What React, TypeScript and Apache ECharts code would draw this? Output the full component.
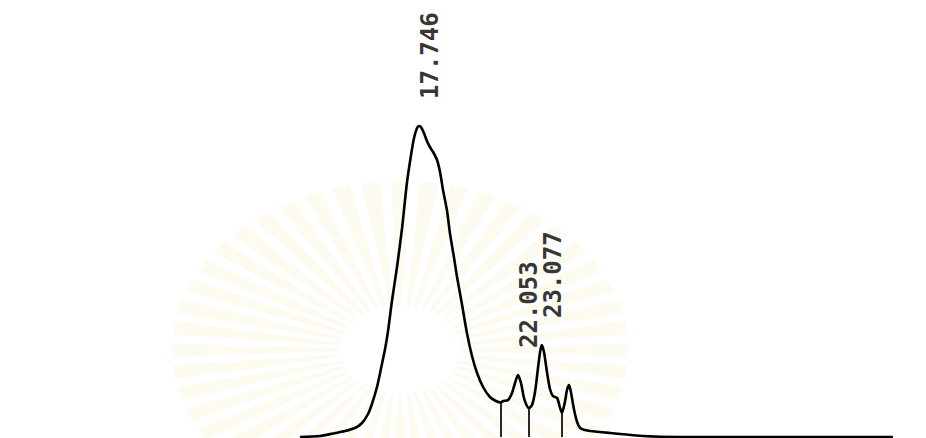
import React, { useEffect, useRef } from "react";
import * as echarts from "echarts";

// Retention time (min) of each sampled point of the trace
const times = [
  12.57, 13.44, 14.01, 14.53, 14.96, 15.27, 15.53, 15.7, 15.92, 16.09, 16.27,
  16.4, 16.57, 16.79, 17.01, 17.22, 17.4, 17.53, 17.66, 17.75, 17.83, 17.96,
  18.09, 18.22, 18.36, 18.53, 18.66, 18.79, 18.96, 19.09, 19.27, 19.4, 19.62,
  19.83, 20.05, 20.27, 20.53, 20.83, 21.09, 21.31, 21.4, 21.62, 21.79, 21.92,
  22.05, 22.18, 22.31, 22.44, 22.53, 22.66, 22.79, 22.92, 23.01, 23.08, 23.18,
  23.31, 23.44, 23.57, 23.75, 23.88, 23.96, 24.09, 24.18, 24.27, 24.35, 24.49,
  24.62, 24.75, 24.96, 25.18, 26.05, 27.49, 29.09, 38.35,
];

// Detector signal (arbitrary units) at each time
const signal = [
  0, 1, 3.5, 6, 9, 14, 23, 33, 50, 68, 88, 106, 136, 170, 209, 254, 282, 299,
  309, 311, 310, 304, 296, 290, 285, 277, 265, 247, 227, 204, 179, 160, 132,
  104, 81, 64, 50, 40, 36, 34.5, 36, 37, 44, 54, 62, 54, 39, 31, 29, 32, 45, 69,
  85, 92, 85, 65, 48, 41, 39, 29, 24, 35, 47, 52, 45, 27, 15, 9, 7, 6, 4, 1, 0,
  0,
];

// Peaks annotated with their retention time
const peakTimes = [17.746, 22.053, 23.077];
const peakLabels = ["17.746", "22.053", "23.077"];

// Integration drop lines (min)
const dropTimes = [21.31, 22.53, 23.96];

function signalAt(t: number): number {
  for (let i = 0; i < times.length - 1; i++) {
    if (t >= times[i] && t <= times[i + 1]) {
      const f = (t - times[i]) / (times[i + 1] - times[i]);
      return signal[i] + f * (signal[i + 1] - signal[i]);
    }
  }
  return 0;
}

function peakHeight(t: number): number {
  let best = 0;
  let bd = Infinity;
  times.forEach((x, i) => {
    const d = Math.abs(x - t);
    if (d < bd) {
      bd = d;
      best = signal[i];
    }
  });
  return best;
}

function watermark() {
  const rays: any[] = [];
  const n = 48;
  const r0 = 60;
  const R = 228;
  const ky = 0.74;
  for (let i = 0; i < n; i++) {
    const a = (i / n) * Math.PI * 2;
    const w0 = 0.03;
    const w1 = 0.04;
    const pts = [
      [r0 * Math.cos(a - w0), r0 * Math.sin(a - w0) * ky],
      [R * Math.cos(a - w1), R * Math.sin(a - w1) * ky],
      [R * Math.cos(a + w1), R * Math.sin(a + w1) * ky],
      [r0 * Math.cos(a + w0), r0 * Math.sin(a + w0) * ky],
    ];
    rays.push({
      type: "polygon",
      shape: { points: pts },
      style: { fill: "rgba(246,230,185,0.22)" },
      silent: true,
    });
  }
  return {
    type: "group",
    x: 400,
    y: 350,
    z: -10,
    silent: true,
    children: rays,
  };
}

export default function App() {
  const ref = useRef<HTMLDivElement>(null);
  useEffect(() => {
    if (!ref.current) return;
    const chart = echarts.init(ref.current, null, { renderer: "svg" });
    const trace = times.map((t, i) => [t, signal[i]]);
    const labelPts = peakTimes.map((t, i) => ({
      value: [t, peakHeight(t)],
      name: peakLabels[i],
    }));
    const drops = dropTimes.map((t) => [
      { coord: [t, 0] },
      { coord: [t, signalAt(t)] },
    ]);
    chart.setOption({
      animation: false,
      backgroundColor: "#ffffff",
      graphic: [watermark()],
      grid: { left: 0, right: 0, top: 0, bottom: 1 },
      xAxis: {
        type: "value",
        min: -0.471,
        max: 39.789,
        show: false,
      },
      yAxis: {
        type: "value",
        min: 0,
        max: 437,
        show: false,
      },
      series: [
        {
          type: "line",
          data: trace,
          showSymbol: false,
          smooth: 0.25,
          lineStyle: { color: "#000000", width: 2.6 },
          z: 3,
          markLine: {
            silent: true,
            symbol: ["none", "none"],
            label: { show: false },
            lineStyle: { color: "#111111", width: 1.8, type: "solid" },
            data: drops,
          },
        },
        {
          type: "scatter",
          data: labelPts,
          symbolSize: 0,
          z: 4,
          label: {
            show: true,
            formatter: (p: any) => p.name,
            position: [11, -27],
            rotate: 90,
            align: "left",
            verticalAlign: "middle",
            fontFamily: "DejaVu Sans Mono",
            fontWeight: "bold",
            fontSize: 24,
            color: "#000000",
          },
        },
      ],
    });
    return () => chart.dispose();
  }, []);
  return (
    <div
      ref={ref}
      style={{
        position: "fixed",
        left: 0,
        top: 0,
        width: 926,
        height: 438,
        background: "#fff",
      }}
    />
  );
}
